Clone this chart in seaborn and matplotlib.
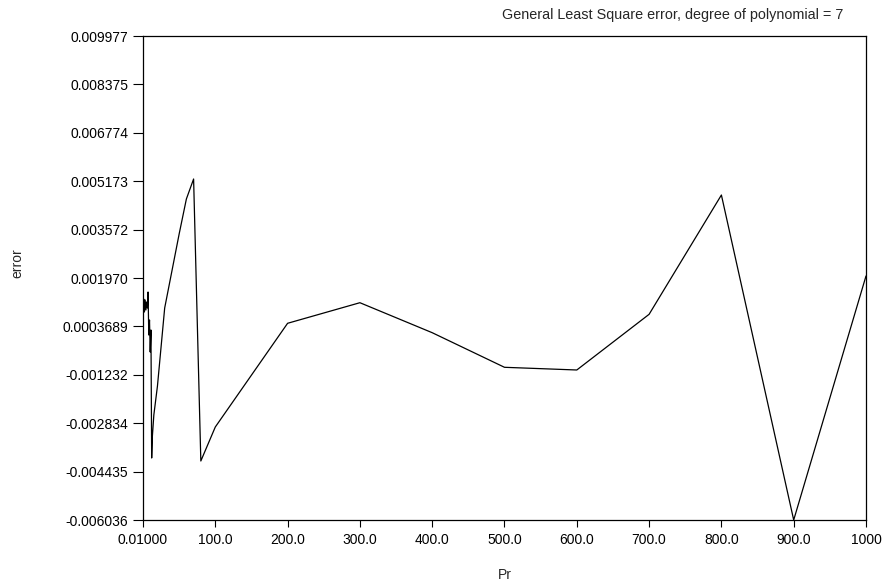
import matplotlib
matplotlib.use("Agg")
import matplotlib.pyplot as plt
import seaborn as sns
import pandas as pd

# Prandtl numbers and the fit error at each one
pr = [0.01, 0.5, 1, 2, 3, 4, 5, 6, 7, 8, 9, 10, 11, 12, 13, 15,
      20, 30, 40, 50, 60, 70, 80, 100,
      200, 300, 400, 500, 600, 700, 800, 900, 1000]
err = [0.001309, 0.000812, 0.001276, 0.000846, 0.001243, 0.000912,
       0.001176, 0.000978, 0.001507, 0.000085, 0.000581, -0.000478,
       0.000250, -0.003985, -0.003257, -0.002562,
       -0.001603, 0.000978, 0.002202, 0.003426, 0.004584, 0.005246,
       -0.004084, -0.002959,
       0.000472, 0.001153, 0.000161, -0.000984, -0.001073, 0.000769,
       0.004716, -0.006036, 0.002037]

x_ticks = [0.01, 100, 200, 300, 400, 500, 600, 700, 800, 900, 1000]
x_tick_labels = ["0.01000", "100.0", "200.0", "300.0", "400.0", "500.0",
                 "600.0", "700.0", "800.0", "900.0", "1000"]
y_ticks = [-0.006036, -0.004435, -0.002834, -0.001232, 0.0003689,
           0.001970, 0.003572, 0.005173, 0.006774, 0.008375, 0.009977]
y_tick_labels = ["-0.006036", "-0.004435", "-0.002834", "-0.001232",
                 "0.0003689", "0.001970", "0.003572", "0.005173",
                 "0.006774", "0.008375", "0.009977"]

sns.set_style("ticks")
plt.rcParams["font.family"] = ["Liberation Sans", "DejaVu Sans"]

df = pd.DataFrame({"Pr": pr, "error": err})

fig = plt.figure(figsize=(8.89, 5.86), dpi=100)
ax = fig.add_axes([143 / 889, 66 / 586, 723 / 889, 484 / 586])

sns.lineplot(data=df, x="Pr", y="error", sort=False, color="black",
             linewidth=0.9, ax=ax)

ax.set_xlim(0.01, 1000)
ax.set_ylim(y_ticks[0], y_ticks[-1])
ax.set_xticks(x_ticks)
ax.set_xticklabels(x_tick_labels)
ax.set_yticks(y_ticks)
ax.set_yticklabels(y_tick_labels)

for side in ["top", "right", "left", "bottom"]:
    ax.spines[side].set_visible(True)
    ax.spines[side].set_color("black")
    ax.spines[side].set_linewidth(0.9)

ax.tick_params(axis="y", direction="out", length=7.2, width=0.8,
               pad=3.5, labelsize=10, colors="black")
ax.tick_params(axis="x", direction="out", length=5, width=0.8,
               pad=4, labelsize=10, colors="black")

ax.set_xlabel("Pr", fontsize=10)
ax.set_ylabel("error", fontsize=10)
ax.xaxis.set_label_coords(0.5, -0.100)
ax.yaxis.set_label_coords(-0.164, 0.531)

fig.text(673 / 889, 1 - 15 / 586,
         "General Least Square error, degree of polynomial = 7",
         ha="center", va="center", fontsize=10.4)

fig.savefig("out.png", dpi=100)
